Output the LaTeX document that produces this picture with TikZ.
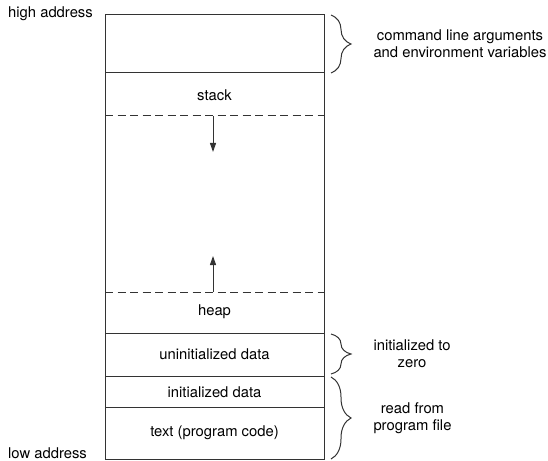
\documentclass[tikz,border=0pt]{standalone}
\usepackage{fontspec}
\setmainfont{TeX Gyre Heros}
\usetikzlibrary{arrows.meta,decorations.pathreplacing}
\tikzset{
  seg/.style={draw=black!80, line width=1bp},
  gap/.style={seg, dash pattern=on 8bp off 4.5bp},
  growarrow/.style={seg, -{Triangle[length=9bp,width=6bp]}},
  brc/.style={seg, decorate, decoration={brace,amplitude=20bp}},
  addr/.style={anchor=west, inner sep=0pt},
  note/.style={anchor=west, align=center, inner sep=0pt, xshift=42bp}
}
\begin{document}
\begin{tikzpicture}[x=1bp,y=-1bp,font=\fontsize{14.8bp}{17bp}\selectfont]
\useasboundingbox (0,0) rectangle (548,461);
\def\xl{105}
\def\xr{324}
\def\xm{214.5}
\def\xa{213}
\def\xb{331}

% memory layout, top to bottom
\draw[seg] (\xl,15) rectangle (\xr,459);
\foreach \y in {73,333,376,407} {\draw[seg] (\xl,\y) -- (\xr,\y);}
\draw[gap] (\xl,116) -- (\xr,116);
\draw[gap] (\xl,292) -- (\xr,292);

\node[addr] (high) at (8,14) {high address};
\node[addr] (low) at (8,453) {low address};

\node (stack) at (\xm,95) {stack};
\node (heap) at (\xm,312) {heap};
\node (bss) at (\xm,354) {uninitialized data};
\node (data) at (\xm,392) {initialized data};
\node (text) at (\xm,433) {text (program code)};

% stack grows down, heap grows up
\coordinate (stacktop) at (\xa,116);
\coordinate (stackdir) at (\xa,152);
\draw[growarrow] (stacktop) -- (stackdir);
\coordinate (heaptop) at (\xa,292);
\coordinate (heapdir) at (\xa,256);
\draw[growarrow] (heaptop) -- (heapdir);

\draw[brc] (\xb,15) -- (\xb,73) node[note,midway] (args) {command line arguments\\and environment variables};
\draw[brc] (\xb,334) -- (\xb,374) node[note,midway] (zero) {initialized to\\zero};
\draw[brc] (\xb,377) -- (\xb,459) node[note,midway] (file) {read from\\program file};

\end{tikzpicture}
\end{document}
